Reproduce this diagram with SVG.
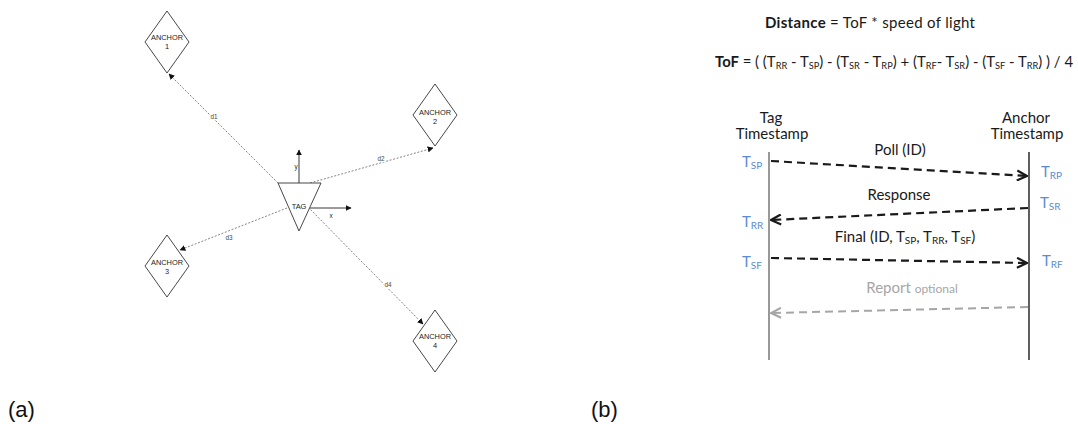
<svg xmlns="http://www.w3.org/2000/svg" width="1078" height="424" viewBox="0 0 1078 424">
  <style>
    .bg { fill: #ffffff; }
    .anchor { fill: #ffffff; stroke: #333333; stroke-width: 0.9; }
    .ntext { font-family: "Liberation Sans", Arial, sans-serif; font-size: 7.4px; fill: #222222; text-anchor: middle; }
    .dlabel { font-family: "Liberation Sans", Arial, sans-serif; font-size: 6.3px; fill: #444444; text-anchor: middle; paint-order: stroke; stroke: #ffffff; stroke-width: 2px; }
    .range { fill: none; stroke: #666666; stroke-width: 0.8; stroke-dasharray: 2 1.6; }
    .axis { fill: none; stroke: #222222; stroke-width: 0.9; }
    .cap { font-family: "Liberation Sans", Arial, sans-serif; font-size: 22px; fill: #111111; }
    .seq { font-family: Lato, "Open Sans", sans-serif; font-size: 15px; fill: #1a1a1a; }
    .ts { font-family: Lato, "Open Sans", sans-serif; font-size: 15px; fill: #5b8bd0; }
    .sub { font-size: 10px; }
    .fsub { font-size: 9px; }
    .msg { fill: none; stroke: #1a1a1a; stroke-width: 2.2; stroke-dasharray: 8 5; }
    .msg-opt { fill: none; stroke: #a6a6a6; stroke-width: 2; stroke-dasharray: 8 5; }
  </style>
  <defs>
    <marker id="tip" viewBox="0 0 10 10" refX="9" refY="5" markerWidth="6" markerHeight="6" markerUnits="userSpaceOnUse" orient="auto">
      <path d="M0,0 L10,5 L0,10 z" fill="#111111"/>
    </marker>
    <marker id="chev" viewBox="0 0 12 12" refX="11" refY="6" markerWidth="12" markerHeight="12" markerUnits="userSpaceOnUse" orient="auto">
      <path d="M1,1 L11,6 L1,11" fill="none" stroke="#1a1a1a" stroke-width="2.2"/>
    </marker>
    <marker id="chev-opt" viewBox="0 0 12 12" refX="11" refY="6" markerWidth="12" markerHeight="12" markerUnits="userSpaceOnUse" orient="auto">
      <path d="M1,1 L11,6 L1,11" fill="none" stroke="#a6a6a6" stroke-width="2"/>
    </marker>
  </defs>

  <rect class="bg" x="0" y="0" width="1078" height="424"/>

  <!-- (a) tag / anchor layout -->
  <g id="ranges">
    <line class="range" x1="278" y1="183" x2="169" y2="74" marker-end="url(#tip)"/>
    <line class="range" x1="310" y1="183" x2="433" y2="148" marker-end="url(#tip)"/>
    <line class="range" x1="287" y1="208" x2="180" y2="250" marker-end="url(#tip)"/>
    <line class="range" x1="308" y1="207" x2="423" y2="324" marker-end="url(#tip)"/>
    <text class="dlabel" x="214" y="119">d1</text>
    <text class="dlabel" x="381" y="161">d2</text>
    <text class="dlabel" x="229" y="240">d3</text>
    <text class="dlabel" x="388" y="287">d4</text>
  </g>

  <g id="anchor1">
    <polygon class="anchor" points="167,11 189,42 167,73 145,42"/>
    <text class="ntext" x="167" y="39.5">ANCHOR</text>
    <text class="ntext" x="167" y="48.5">1</text>
  </g>
  <g id="anchor2">
    <polygon class="anchor" points="435,84 457,115 435,146 413,115"/>
    <text class="ntext" x="435" y="114.5">ANCHOR</text>
    <text class="ntext" x="435" y="123.5">2</text>
  </g>
  <g id="anchor3">
    <polygon class="anchor" points="167,235 189,266 167,297 145,266"/>
    <text class="ntext" x="167" y="264.5">ANCHOR</text>
    <text class="ntext" x="167" y="273.5">3</text>
  </g>
  <g id="anchor4">
    <polygon class="anchor" points="435,310 457,341 435,372 413,341"/>
    <text class="ntext" x="435" y="338.5">ANCHOR</text>
    <text class="ntext" x="435" y="347.5">4</text>
  </g>

  <g id="tag">
    <polygon class="anchor" points="278,183 321,183 299,231"/>
    <text class="ntext" x="299" y="208.5">TAG</text>
    <line class="axis" x1="299" y1="183" x2="299" y2="150" marker-end="url(#tip)"/>
    <line class="axis" x1="310" y1="208" x2="351" y2="208" marker-end="url(#tip)"/>
    <text class="ntext" x="296" y="168.5" style="font-size:6.3px">y</text>
    <text class="ntext" x="331" y="218" style="font-size:6.3px">x</text>
  </g>

  <text class="cap" x="8" y="417">(a)</text>

  <!-- (b) two-way ranging sequence -->
  <g id="formulas">
    <text class="seq" x="765" y="28" textLength="210" lengthAdjust="spacing"><tspan font-weight="bold">Distance</tspan> = ToF * speed of light</text>
    <text class="seq" x="715" y="67" textLength="358" lengthAdjust="spacingAndGlyphs" style="font-size:14.5px"><tspan font-weight="bold">ToF</tspan> = ( (T<tspan class="fsub" baseline-shift="-1.5">RR</tspan> - T<tspan class="fsub" baseline-shift="-1.5">SP</tspan>) - (T<tspan class="fsub" baseline-shift="-1.5">SR</tspan> - T<tspan class="fsub" baseline-shift="-1.5">RP</tspan>) + (T<tspan class="fsub" baseline-shift="-1.5">RF</tspan>- T<tspan class="fsub" baseline-shift="-1.5">SR</tspan>) - (T<tspan class="fsub" baseline-shift="-1.5">SF</tspan> - T<tspan class="fsub" baseline-shift="-1.5">RR</tspan>) ) / 4</text>
  </g>

  <g id="tag-lifeline">
    <text class="seq" x="771" y="123" text-anchor="middle">Tag</text>
    <text class="seq" x="772" y="139" text-anchor="middle">Timestamp</text>
    <line x1="769" y1="152" x2="769" y2="360" stroke="#7f7f7f" stroke-width="1.6"/>
  </g>
  <g id="anchor-lifeline">
    <text class="seq" x="1026" y="123" text-anchor="middle">Anchor</text>
    <text class="seq" x="1027" y="139" text-anchor="middle">Timestamp</text>
    <line x1="1029" y1="152" x2="1029" y2="360" stroke="#1a1a1a" stroke-width="1.4"/>
  </g>

  <g id="messages">
    <line class="msg" x1="771" y1="161" x2="1027" y2="176" marker-end="url(#chev)"/>
    <line class="msg" x1="1028" y1="208" x2="771" y2="220" marker-end="url(#chev)"/>
    <line class="msg" x1="771" y1="258" x2="1027" y2="263" marker-end="url(#chev)"/>
    <line class="msg-opt" x1="1028" y1="307" x2="771" y2="313" marker-end="url(#chev-opt)"/>
  </g>

  <g id="message-labels">
    <text class="seq" x="900" y="155" text-anchor="middle">Poll (ID)</text>
    <text class="seq" x="899" y="200" text-anchor="middle">Response</text>
    <text class="seq" x="905" y="242" text-anchor="middle">Final (ID, T<tspan class="sub" baseline-shift="-1.5">SP</tspan>, T<tspan class="sub" baseline-shift="-1.5">RR</tspan>, T<tspan class="sub" baseline-shift="-1.5">SF</tspan>)</text>
    <text class="seq" x="912" y="293" text-anchor="middle" style="fill:#a6a6a6">Report <tspan style="font-size:12px">optional</tspan></text>
  </g>

  <g id="timestamps">
    <text class="ts" x="742" y="167">T<tspan class="sub" baseline-shift="-1.5">SP</tspan></text>
    <text class="ts" x="1041" y="177">T<tspan class="sub" baseline-shift="-1.5">RP</tspan></text>
    <text class="ts" x="1040" y="208">T<tspan class="sub" baseline-shift="-1.5">SR</tspan></text>
    <text class="ts" x="742" y="227">T<tspan class="sub" baseline-shift="-1.5">RR</tspan></text>
    <text class="ts" x="742" y="267">T<tspan class="sub" baseline-shift="-1.5">SF</tspan></text>
    <text class="ts" x="1042" y="266">T<tspan class="sub" baseline-shift="-1.5">RF</tspan></text>
  </g>

  <text class="cap" x="591" y="417">(b)</text>
</svg>
